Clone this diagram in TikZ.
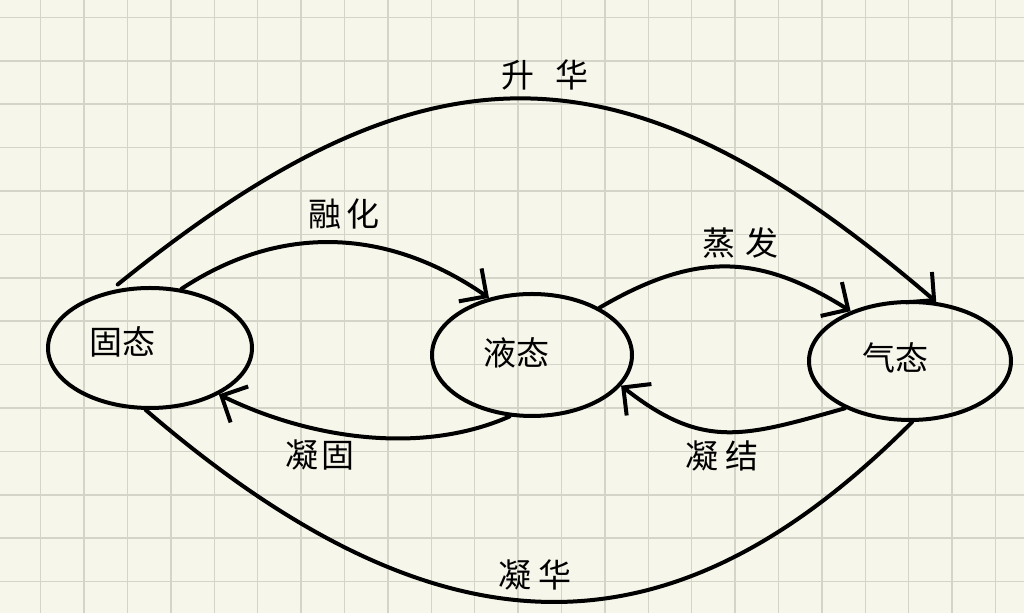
\documentclass[tikz,border=0pt]{standalone}
\usepackage{fontspec}
\newfontfamily\cjk{Noto Sans CJK SC}
\usetikzlibrary{arrows.meta,shapes.geometric}
\definecolor{paper}{RGB}{247,246,234}
\definecolor{gridc}{RGB}{212,212,201}
\begin{document}
\begin{tikzpicture}[x=0.5pt,y=-0.5pt,
  state/.style={ellipse, draw=black, line width=2pt, minimum width=102pt, minimum height=60pt, inner sep=0pt},
  flow/.style={draw=black, line width=2pt, line cap=round},
  tip/.style={-{Straight Barb[length=10pt,width=20pt,line width=2pt]}},
  lab/.style={font=\cjk\fontsize{16.5}{16.5}\selectfont, inner sep=0pt},
  gridline/.style={draw=gridc, line width=0.75pt}]
\fill[paper] (0,0) rectangle (1024,613);
\useasboundingbox (0,0) rectangle (1024,613);
\foreach \i in {0,...,22} {\draw[gridline] ({40.7+43.4*\i},0) -- ({40.7+43.4*\i},613);}
\foreach \j in {0,...,13} {\draw[gridline] (0,{17.4+43.4*\j}) -- (1024,{17.4+43.4*\j});}

\node[state, label={[lab,xshift=-13.5pt,yshift=3pt]center:固态}] (gu) at (150,348) {};
\node[state, minimum width=100pt, minimum height=61pt, label={[lab,xshift=-8pt,yshift=1pt]center:液态}] (ye) at (532,355) {};
\node[state, minimum width=101pt, minimum height=59pt, label={[lab,xshift=-7.5pt,yshift=1.5pt]center:气态}] (qi) at (910,361) {};

% 升华
\draw[flow, tip, shorten <=5pt] (gu.125) .. controls (430,32) and (626,36) .. (qi.66);
% 融化
\draw[flow, tip] (gu.62) .. controls (281,223) and (388,228) .. (ye.127);
% 蒸发
\draw[flow, tip] (ye.35) .. controls (695,252) and (758,253) .. (qi.140);
% 凝结
\draw[flow, tip] (qi.216) .. controls (743,437) and (703,450) .. (ye.341);
% 凝固
\draw[flow, tip] (ye.250) .. controls (420,456) and (308,438) .. (gu.326);
% 凝华
\draw[flow] (qi.272) .. controls (679,656) and (450,672) .. (gu.266);

\node[lab] (lsh) at (545,75) {升\hspace{11pt}华};
\node[lab] (lrh) at (344,214) {融\hspace{3pt}化};
\node[lab] (lzf) at (740,243) {蒸\hspace{5pt}发};
\node[lab] (lng) at (320,455) {凝\hspace{2pt}固};
\node[lab] (lnj) at (722,456) {凝\hspace{4pt}结};
\node[lab] (lnh) at (535,575) {凝\hspace{4pt}华};
\end{tikzpicture}
\end{document}
